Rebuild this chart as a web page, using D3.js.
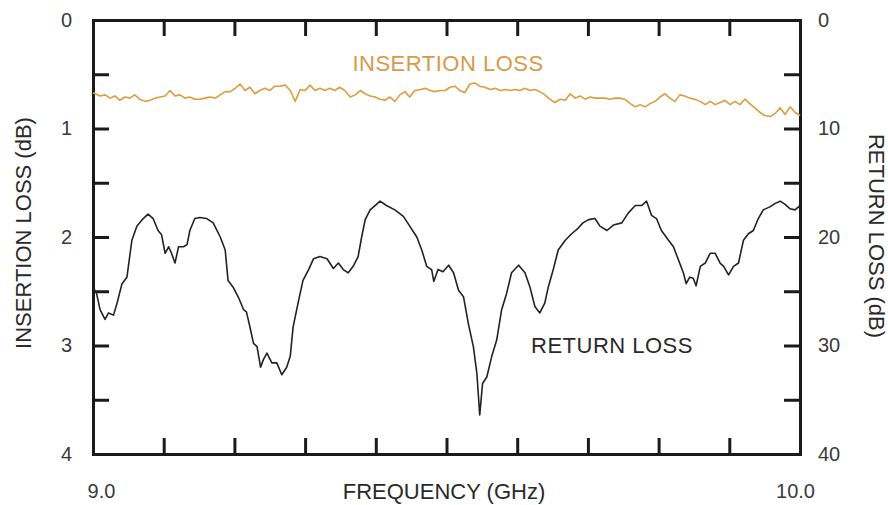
<!DOCTYPE html>
<html>
<head>
<meta charset="utf-8">
<script src="https://cdn.jsdelivr.net/npm/d3@7"></script>
<style>
  body { margin: 0; background: #fff; }
  text { font-family: "Liberation Sans", Arial, Helvetica, sans-serif; }
</style>
</head>
<body>
<div id="chart"></div>
<script>
// insertion loss (dB, left axis)
const ilFreq = [9.000, 9.003, 9.010, 9.017, 9.024, 9.031, 9.038, 9.045, 9.052, 9.059, 9.066, 9.074, 9.081, 9.088, 9.095,
  9.102, 9.109, 9.116, 9.123, 9.130, 9.137, 9.144, 9.151, 9.158, 9.165, 9.173, 9.180, 9.187, 9.194, 9.201, 9.208,
  9.215, 9.222, 9.229, 9.236, 9.243, 9.250, 9.257, 9.264, 9.272, 9.279, 9.286, 9.293, 9.300, 9.307, 9.314, 9.321,
  9.328, 9.335, 9.342, 9.349, 9.356, 9.364, 9.371, 9.378, 9.385, 9.392, 9.399, 9.406, 9.413, 9.420, 9.427, 9.434,
  9.441, 9.448, 9.455, 9.463, 9.470, 9.477, 9.484, 9.491, 9.498, 9.505, 9.512, 9.519, 9.526, 9.533, 9.540, 9.547,
  9.554, 9.562, 9.569, 9.576, 9.583, 9.590, 9.597, 9.604, 9.611, 9.618, 9.625, 9.632, 9.639, 9.646, 9.653, 9.661,
  9.668, 9.675, 9.682, 9.689, 9.696, 9.703, 9.710, 9.717, 9.724, 9.731, 9.738, 9.745, 9.752, 9.760, 9.767, 9.774,
  9.781, 9.788, 9.795, 9.802, 9.809, 9.816, 9.823, 9.830, 9.837, 9.844, 9.851, 9.859, 9.866, 9.873, 9.880, 9.887,
  9.894, 9.901, 9.908, 9.915, 9.922, 9.929, 9.936, 9.943, 9.950, 9.958, 9.965, 9.972, 9.979, 9.986, 9.993, 10.000];
const ilLoss = [0.67, 0.68, 0.70, 0.69, 0.72, 0.70, 0.74, 0.71, 0.72, 0.69, 0.73, 0.75, 0.74, 0.72, 0.71,
  0.70, 0.65, 0.70, 0.69, 0.72, 0.71, 0.73, 0.73, 0.72, 0.71, 0.72, 0.69, 0.66, 0.66, 0.63, 0.59,
  0.65, 0.62, 0.68, 0.65, 0.63, 0.65, 0.61, 0.61, 0.60, 0.65, 0.75, 0.64, 0.65, 0.60, 0.65, 0.63,
  0.65, 0.63, 0.65, 0.62, 0.65, 0.71, 0.69, 0.65, 0.68, 0.70, 0.71, 0.73, 0.74, 0.71, 0.75, 0.69,
  0.66, 0.71, 0.65, 0.64, 0.63, 0.65, 0.66, 0.65, 0.65, 0.62, 0.61, 0.65, 0.67, 0.59, 0.58, 0.61,
  0.62, 0.64, 0.63, 0.65, 0.64, 0.65, 0.64, 0.65, 0.63, 0.65, 0.64, 0.66, 0.69, 0.73, 0.76, 0.73,
  0.74, 0.68, 0.72, 0.70, 0.73, 0.71, 0.72, 0.72, 0.72, 0.73, 0.72, 0.72, 0.73, 0.77, 0.80, 0.78,
  0.80, 0.77, 0.75, 0.71, 0.68, 0.72, 0.75, 0.69, 0.70, 0.72, 0.73, 0.75, 0.78, 0.75, 0.78, 0.76,
  0.74, 0.78, 0.75, 0.78, 0.73, 0.77, 0.81, 0.85, 0.88, 0.89, 0.86, 0.81, 0.87, 0.80, 0.85, 0.88];

// return loss (dB, right axis)
const rlFreq = [9.000, 9.005, 9.010, 9.017, 9.022, 9.029, 9.034, 9.041, 9.048, 9.055, 9.062, 9.071, 9.078, 9.085, 9.092,
  9.097, 9.102, 9.107, 9.111, 9.116, 9.121, 9.128, 9.133, 9.137, 9.144, 9.151, 9.161, 9.170, 9.180, 9.187, 9.191,
  9.198, 9.206, 9.213, 9.217, 9.222, 9.227, 9.232, 9.237, 9.241, 9.246, 9.253, 9.260, 9.267, 9.274, 9.279, 9.283,
  9.290, 9.297, 9.305, 9.312, 9.321, 9.331, 9.340, 9.347, 9.354, 9.361, 9.368, 9.375, 9.380, 9.385, 9.392, 9.399,
  9.406, 9.415, 9.427, 9.439, 9.448, 9.458, 9.465, 9.472, 9.479, 9.482, 9.488, 9.495, 9.503, 9.510, 9.517, 9.524,
  9.531, 9.538, 9.543, 9.547, 9.551, 9.557, 9.564, 9.571, 9.578, 9.585, 9.592, 9.602, 9.611, 9.618, 9.625, 9.632,
  9.639, 9.644, 9.651, 9.658, 9.668, 9.677, 9.686, 9.693, 9.701, 9.710, 9.717, 9.727, 9.736, 9.748, 9.757, 9.767,
  9.776, 9.783, 9.790, 9.797, 9.804, 9.814, 9.821, 9.828, 9.835, 9.839, 9.844, 9.849, 9.853, 9.859, 9.866, 9.873,
  9.880, 9.887, 9.892, 9.899, 9.906, 9.913, 9.920, 9.927, 9.934, 9.941, 9.948, 9.958, 9.965, 9.972, 9.979, 9.986,
  9.993, 10.000];
const rlLoss = [24.6, 25.2, 26.7, 27.6, 27.0, 27.2, 26.1, 24.3, 23.7, 20.3, 19.0, 18.3, 17.9, 18.3, 19.4,
  19.8, 21.5, 20.9, 21.5, 22.4, 20.9, 20.9, 20.7, 19.4, 18.3, 18.2, 18.3, 18.7, 20.0, 21.2, 24.0,
  24.6, 25.6, 26.7, 26.9, 28.3, 29.8, 30.1, 32.0, 31.3, 30.7, 31.6, 31.6, 32.7, 32.0, 31.0, 28.3,
  26.1, 24.0, 23.0, 22.0, 21.8, 22.0, 22.9, 22.4, 23.0, 23.3, 22.7, 21.8, 20.0, 18.4, 17.5, 17.1,
  16.7, 17.1, 17.5, 18.1, 19.0, 20.0, 21.2, 22.7, 23.0, 24.1, 23.0, 23.2, 22.6, 23.3, 24.9, 25.5,
  28.0, 30.1, 32.6, 36.4, 33.5, 32.9, 31.0, 29.5, 26.7, 25.2, 23.3, 22.6, 23.3, 24.6, 26.4, 27.0,
  26.1, 24.6, 23.0, 21.2, 20.3, 19.7, 19.2, 18.7, 18.4, 18.3, 19.0, 19.4, 18.9, 18.7, 17.8, 17.1,
  17.1, 16.7, 18.0, 18.3, 19.4, 20.3, 20.9, 22.1, 23.3, 24.3, 23.7, 23.8, 24.5, 22.7, 22.4, 21.5,
  21.5, 22.4, 22.7, 23.5, 22.7, 22.4, 20.3, 19.7, 19.4, 18.3, 17.5, 17.2, 16.9, 16.7, 17.0, 17.4,
  17.5, 17.1];

const freqTicks = d3.range(0, 11).map(i => 9 + i / 10);
const ilTicks = d3.range(0, 9).map(i => i / 2);
const rlTicks = d3.range(0, 9).map(i => i * 5);

const W = 888, H = 505;
const margin = { top: 20, right: 88, bottom: 51, left: 93 };
const width = W - margin.left - margin.right;
const height = H - margin.top - margin.bottom;

const $svg = d3.select('#chart').append('svg')
  .attr('width', W)
  .attr('height', H);

const $plot = $svg.append('g')
  .attr('transform', `translate(${margin.left}, ${margin.top})`);

const x = d3.scaleLinear().domain([9, 10]).range([0, width]);
const yL = d3.scaleLinear().domain([0, 4]).range([0, height]);
const yR = d3.scaleLinear().domain([0, 40]).range([0, height]);

const tick = 16;
const fmt = d3.format('.1f');

function styleAxis(g) {
  g.select('.domain').attr('stroke', '#1a1a1a').attr('stroke-width', 3).attr('stroke-linecap', 'square');
  g.selectAll('.tick line').attr('stroke', '#1a1a1a').attr('stroke-width', 3);
  g.selectAll('.tick text')
    .attr('fill', '#3a3a3a')
    .attr('font-size', 20);
}

$plot.append('g')
  .call(d3.axisLeft(yL).tickValues(ilTicks).tickSizeInner(-tick).tickSizeOuter(0).tickPadding(21)
    .tickFormat(d => d % 1 === 0 ? d : ''))
  .call(styleAxis);

$plot.append('g')
  .attr('transform', `translate(${width}, 0)`)
  .call(d3.axisRight(yR).tickValues(rlTicks).tickSizeInner(-tick).tickSizeOuter(0).tickPadding(18)
    .tickFormat(d => d % 10 === 0 ? d : ''))
  .call(styleAxis);

$plot.append('g')
  .call(d3.axisTop(x).tickValues(freqTicks).tickSizeInner(-tick).tickSizeOuter(0).tickFormat(''))
  .call(styleAxis);

$plot.append('g')
  .attr('transform', `translate(0, ${height})`)
  .call(d3.axisBottom(x).tickValues(freqTicks).tickSizeInner(-tick).tickSizeOuter(0).tickPadding(30)
    .tickFormat(d => (d === 9 || d === 10) ? fmt(d) : ''))
  .call(styleAxis)
  .call(g => g.selectAll('.tick text').attr('dx', d => d === 9 ? 8 : -5));

// lines
const ilLine = d3.line()
  .x((d, i) => x(ilFreq[i]))
  .y(d => yL(d));

const rlLine = d3.line()
  .x((d, i) => x(rlFreq[i]))
  .y(d => yR(d));

$plot.append('path')
  .datum(ilLoss)
  .attr('d', ilLine)
  .attr('fill', 'none')
  .attr('stroke', '#dd9c3e')
  .attr('stroke-width', 1.6)
  .attr('stroke-linejoin', 'round');

$plot.append('path')
  .datum(rlLoss)
  .attr('d', rlLine)
  .attr('fill', 'none')
  .attr('stroke', '#222')
  .attr('stroke-width', 1.6)
  .attr('stroke-linejoin', 'round');

// series labels
$svg.append('text')
  .attr('x', 448)
  .attr('y', 71)
  .attr('text-anchor', 'middle')
  .attr('font-size', 22)
  .attr('letter-spacing', 0.5)
  .attr('fill', '#d89a48')
  .text('INSERTION LOSS');

$svg.append('text')
  .attr('x', 612)
  .attr('y', 353)
  .attr('text-anchor', 'middle')
  .attr('font-size', 22)
  .attr('letter-spacing', 0.5)
  .attr('fill', '#2a2a2a')
  .text('RETURN LOSS');

// axis titles
$svg.append('text')
  .attr('transform', 'translate(31, 233) rotate(-90)')
  .attr('text-anchor', 'middle')
  .attr('font-size', 22)
  .attr('fill', '#2a2a2a')
  .text('INSERTION LOSS (dB)');

$svg.append('text')
  .attr('transform', 'translate(869, 236) rotate(90)')
  .attr('text-anchor', 'middle')
  .attr('font-size', 22)
  .attr('fill', '#2a2a2a')
  .text('RETURN LOSS (dB)');

$svg.append('text')
  .attr('x', 444)
  .attr('y', 499)
  .attr('text-anchor', 'middle')
  .attr('font-size', 22)
  .attr('fill', '#2a2a2a')
  .text('FREQUENCY (GHz)');
</script>
</body>
</html>
